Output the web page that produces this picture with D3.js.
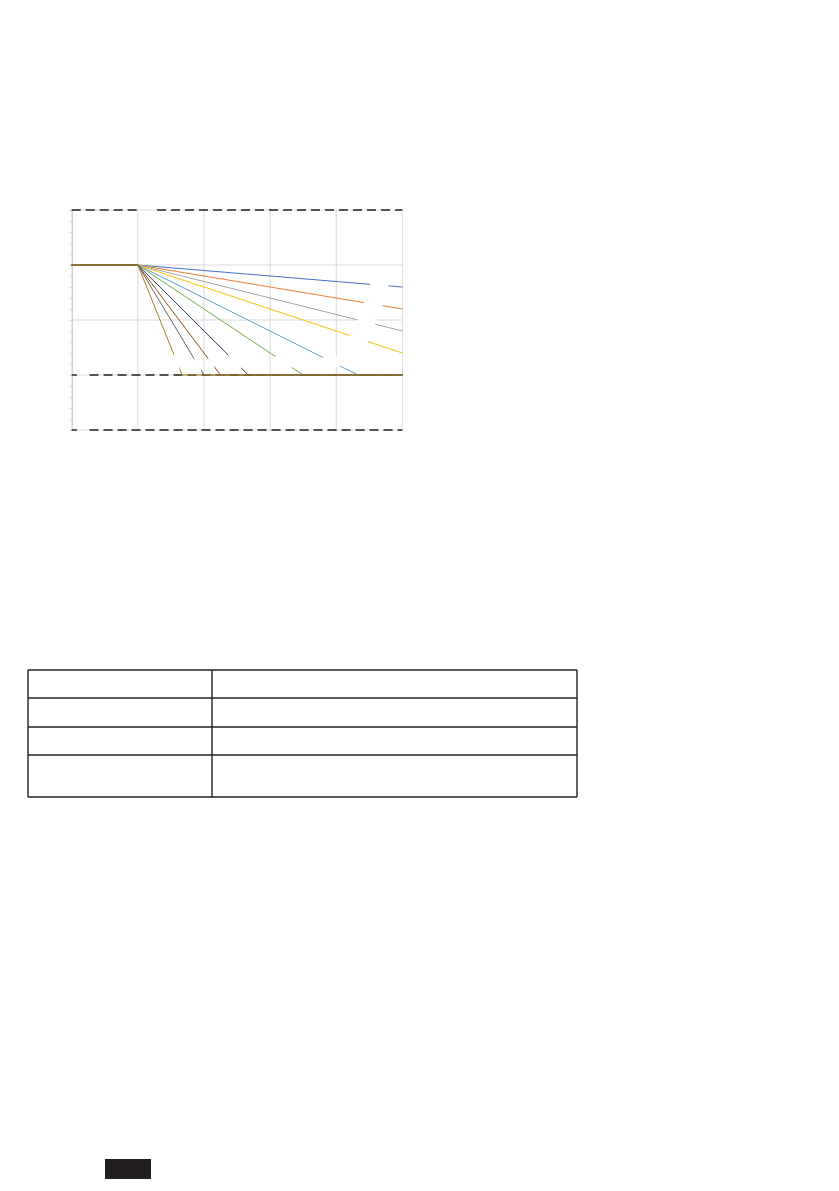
<!DOCTYPE html>
<html lang="en">
<head>
    <meta charset="UTF-8">
    <title>Derating curves</title>
    <script src="https://cdn.jsdelivr.net/npm/d3@7"></script>
    <style>
        html, body { margin: 0; background: #fff; overflow: hidden; }
        svg { display: block; }
    </style>
</head>
<body>
    <div id="graphic"></div>

    <script>
        // Axis ticks (labels are blank in the source page)
        var xTicks = [0, 1, 2, 3, 4, 5];
        var yTicks = [0, 1, 2, 3, 4];

        // Every curve holds flat up to the knee, then falls
        var flatX = [0, 1];
        var flatY = 3;
        var floorY = 1;

        // End point of the sloped part of each curve
        var endX = [5, 5, 5, 5, 4.33, 3.5, 2.67, 2.25, 2, 1.67];
        var endY = [2.6, 2.2, 1.8, 1.4, 1, 1, 1, 1, 1, 1];

        // Label boxes that break each curve (x range, data units)
        var gapFrom = [4.51, 4.42, 4.32, 4.21, 3.80, 3.08, 2.37, 2.065, 1.855, 1.55];
        var gapTo   = [4.79, 4.70, 4.59, 4.48, 4.06, 3.33, 2.56, 2.156, 1.955, 1.63];

        var colors = ['#4472c4', '#ed7d31', '#a5a5a5', '#ffc000', '#5b9bd5',
                      '#70ad47', '#264478', '#9e480e', '#636363', '#a67d1a'];

        // Dashed limit lines and the breaks in them
        var refLevels  = [4, 1, 0];
        var refGapFrom = [1, 0.08, 0.08];
        var refGapTo   = [1.29, 0.27, 0.27];

        var width = 839;
        var height = 1191;

        var svg = d3.select('#graphic')
                    .append('svg')
                    .attr('width', width)
                    .attr('height', height);

        var x = d3.scaleLinear().domain([0, 5]).range([71.7, 402.4]);
        var y = d3.scaleLinear().domain([0, 4]).range([430, 210]);

        var chart = svg.append('g');

        // vertical gridlines
        chart.selectAll('.vgrid')
            .data(xTicks.slice(1))
            .join('line')
            .attr('class', 'vgrid')
            .attr('x1', d => x(d)).attr('x2', d => x(d))
            .attr('y1', y(4)).attr('y2', y(0))
            .attr('stroke', '#d9d9d9')
            .attr('stroke-width', 1);

        // horizontal gridlines
        chart.selectAll('.hgrid')
            .data(yTicks)
            .join('line')
            .attr('class', 'hgrid')
            .attr('x1', x(0)).attr('x2', x(5))
            .attr('y1', d => y(d)).attr('y2', d => y(d))
            .attr('stroke', '#d9d9d9')
            .attr('stroke-width', 1);

        // left axis with small minor ticks, no labels
        var yAxis = d3.axisLeft(y)
            .tickValues(d3.range(0, 4.01, 0.2))
            .tickSize(2)
            .tickFormat('');
        var axisG = chart.append('g')
            .attr('transform', 'translate(' + x(0) + ',0)')
            .call(yAxis);
        axisG.select('.domain').attr('stroke', '#c8c8c8').attr('stroke-width', 1.2);
        axisG.selectAll('.tick line').attr('stroke', '#d0d0d0');

        // dashed limit lines, split around their label gaps
        var refSegs = [];
        refLevels.forEach((lv, i) => {
            refSegs.push({ lv: lv, a: 0, b: refGapFrom[i] });
            refSegs.push({ lv: lv, a: refGapTo[i], b: 5 });
        });
        chart.selectAll('.ref')
            .data(refSegs)
            .join('line')
            .attr('class', 'ref')
            .attr('x1', d => x(d.a)).attr('x2', d => x(d.b))
            .attr('y1', d => y(d.lv)).attr('y2', d => y(d.lv))
            .attr('stroke', '#231f20')
            .attr('stroke-width', 1.4)
            .attr('stroke-dasharray', '9,5');

        // build each curve's points
        var series = endX.map((ex, i) => {
            var pts = [[flatX[0], flatY], [flatX[1], flatY], [ex, endY[i]]];
            if (ex < 5) pts.push([5, floorY]);
            return { id: i, pts: pts, color: colors[i] };
        });

        var line = d3.line().x(d => x(d[0])).y(d => y(d[1]));

        chart.selectAll('.curve')
            .data(series)
            .join('path')
            .attr('class', 'curve')
            .attr('d', d => line(d.pts))
            .attr('fill', 'none')
            .attr('stroke', d => d.color)
            .attr('stroke-width', 1);

        // white label boxes over the curves (their text is blank)
        function yAt(i, xv) {
            var t = (xv - flatX[1]) / (endX[i] - flatX[1]);
            return flatY + t * (endY[i] - flatY);
        }
        var masks = gapFrom.map((g, i) => {
            var ya = y(yAt(i, g)), yb = y(yAt(i, gapTo[i]));
            return {
                x: x(g), w: x(gapTo[i]) - x(g),
                y: Math.min(ya, yb) - 1.5, h: Math.abs(yb - ya) + 3
            };
        });
        chart.selectAll('.mask')
            .data(masks)
            .join('rect')
            .attr('class', 'mask')
            .attr('x', d => d.x).attr('y', d => d.y)
            .attr('width', d => d.w).attr('height', d => d.h)
            .attr('fill', '#fff');

        // empty table below the chart
        var colEdges = [28, 212, 577];
        var rowEdges = [670, 698, 727, 755, 797];
        var table = svg.append('g')
            .attr('stroke', '#231f20')
            .attr('stroke-width', 1.4);
        table.selectAll('.hrow')
            .data(rowEdges)
            .join('line')
            .attr('x1', colEdges[0]).attr('x2', colEdges[2])
            .attr('y1', d => d).attr('y2', d => d);
        table.selectAll('.vcol')
            .data(colEdges)
            .join('line')
            .attr('x1', d => d).attr('x2', d => d)
            .attr('y1', rowEdges[0]).attr('y2', rowEdges[rowEdges.length - 1]);

        // page number tab
        svg.append('rect')
            .attr('x', 105).attr('y', 1159)
            .attr('width', 46).attr('height', 20)
            .attr('fill', '#231f20');
    </script>
</body>
</html>
